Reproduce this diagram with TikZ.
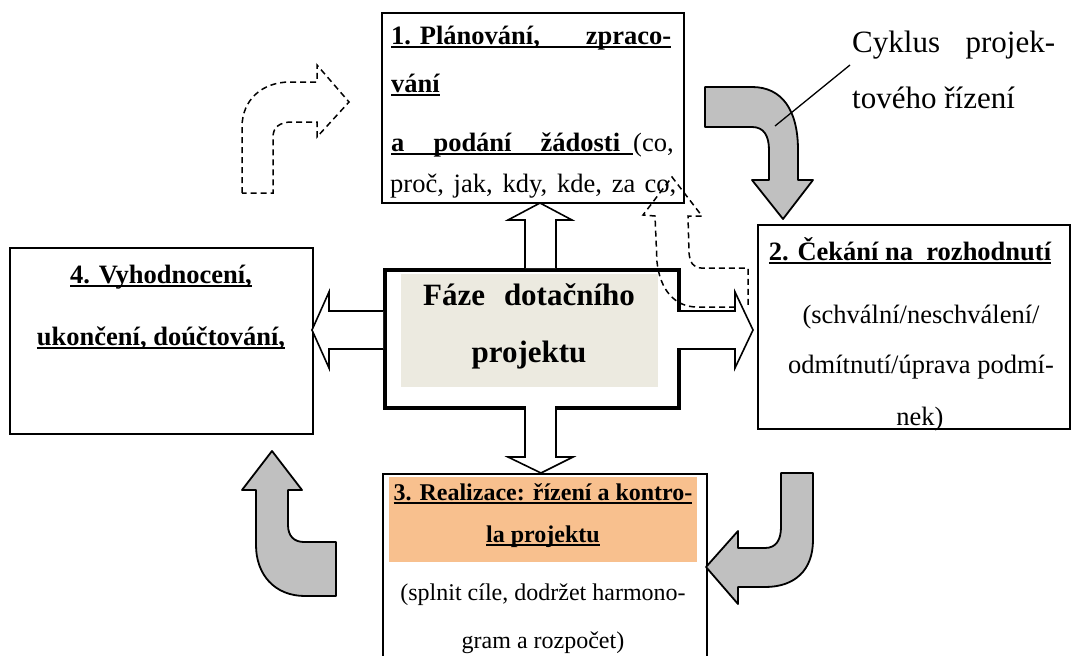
\documentclass[tikz,border=0pt]{standalone}
\usepackage{fontspec}
\setmainfont{Liberation Serif}
\definecolor{arrowgray}{RGB}{192,192,192}
\definecolor{beigebg}{RGB}{236,234,224}
\definecolor{orangebg}{RGB}{248,192,142}
\newsavebox\ulbox
\newcommand\myul[1]{\sbox\ulbox{#1}\rlap{\rule[-4.4pt]{\wd\ulbox}{2.8pt}}\usebox\ulbox}
\newcommand\fb{\fontsize{26.5}{30}\selectfont\bfseries}
\newcommand\fn{\fontsize{26.5}{30}\selectfont}
\newcommand\fbs{\fontsize{24}{28}\selectfont\bfseries}
\newcommand\fns{\fontsize{24}{28}\selectfont}
\newcommand\fc{\fontsize{31}{34}\selectfont\bfseries}
\newcommand\fk{\fontsize{31}{34}\selectfont}
\begin{document}
\begin{tikzpicture}[x=1pt,y=-1pt,
  box/.style={draw, fill=white, line width=1.6pt, inner sep=0pt, anchor=north west},
  bg/.style={inner sep=0pt, anchor=north west},
  tx/.style={inner sep=0pt, anchor=base},
  txl/.style={inner sep=0pt, anchor=base west},
  garrow/.style={draw, line width=1.8pt, fill=arrowgray, line join=round},
  warrow/.style={draw, line width=1.6pt, fill=white, line join=miter},
  darrow/.style={draw, line width=1.5pt, dash pattern=on 6pt off 4pt},
]
\useasboundingbox (0,0) rectangle (1072,656);
\clip (0,0) rectangle (1072,656);

% boxes
\node[box, minimum width=302pt, minimum height=190pt] (b1) at (381,12) {};
\node[box, minimum width=312pt, minimum height=204pt] (b2) at (757,224) {};
\node[box, minimum width=303pt, minimum height=186pt] (b4) at (9,247) {};
\node[box, minimum width=324pt, minimum height=200pt] (b3) at (382,473) {};
\node[box, line width=4pt, minimum width=294pt, minimum height=138pt] (cen) at (383,268) {};
\node[bg, fill=beigebg, minimum width=257pt, minimum height=113pt] (cenbg) at (401,274) {};
\node[bg, fill=orangebg, minimum width=308pt, minimum height=85pt] (b3bg) at (389,477) {};

% gray curved arrows
\draw[garrow] (705,87) -- (752,87) .. controls (782,87) and (798,110) .. (798,150) -- (798,180)
  -- (813,180) -- (783,219) -- (752,180) -- (769,180) -- (769,150)
  .. controls (769,136) and (764,127) .. (752,127) -- (705,127) -- cycle;
\draw[garrow] (781,473) -- (813,473) -- (813,540) .. controls (813,570) and (795,587) .. (765,587)
  -- (738,587) -- (738,604) -- (706,567) -- (738,531) -- (738,548) -- (765,548)
  .. controls (776,548) and (781,540) .. (781,527) -- cycle;
\draw[garrow] (272,451) -- (302,490) -- (288,490) -- (288,525) .. controls (288,536) and (294,542) .. (304,542)
  -- (336,542) -- (336,596) -- (305,596) .. controls (275,596) and (256,575) .. (256,545)
  -- (256,490) -- (242,490) -- cycle;

% dashed arrows
\draw[darrow] (242,193) -- (242,127) .. controls (242,100) and (262,82) .. (290,82) -- (317,82)
  -- (317,65) -- (349,102) -- (317,137) -- (317,122) -- (292,122)
  .. controls (280,122) and (273,127) .. (273,137) -- (273,193) -- cycle;
\draw[darrow] (735,307) -- (697,307) .. controls (675,307) and (660,290) .. (657,262) -- (655,216)
  -- (643,215) -- (672,177) -- (702,216) -- (688,216) -- (689,253)
  .. controls (690,262) and (693,268) .. (701,268) -- (748,268) -- (748,308);

% white block arrows
\draw[warrow] (525,268) -- (525,220) -- (508,220) -- (540,203) -- (572,220) -- (556,220) -- (556,268);
\draw[warrow] (525,406) -- (525,457) -- (508,457) -- (541,473) -- (573,457) -- (556,457) -- (556,406);
\draw[warrow] (383,311) -- (329,311) -- (329,292) -- (312,330) -- (329,368) -- (329,349) -- (383,349);
\draw[warrow] (677,311) -- (735,311) -- (735,292) -- (753,330) -- (735,368) -- (735,349) -- (677,349);

% box 1 text
\node[txl] (t1a) at (391,44) {\fb\myul{\makebox[280pt][l]{1. Plánování,\hfill zpraco-}}};
\node[txl] (t1b) at (391,92) {\fb\myul{vání}};
\node[txl] (t1c) at (391,151) {\fb\myul{\makebox[242pt][l]{a\hfill podání\hfill žádosti\hspace{13pt}}}\mdseries(co,};
\node[txl] (t1d) at (390,192) {\fn\makebox[286pt][s]{proč, jak, kdy, kde, za co,}};

% box 2 text
\node[tx] (t2a) at (910,260) {\fb\myul{2. Čekání na\ \ rozhodnutí}};
\node[tx] (t2b) at (921,323) {\fn (schvální/neschválení/};
\node[tx] (t2c) at (921,373) {\fn odmítnutí/úprava podmí-};
\node[tx] (t2d) at (920,425) {\fn nek)};

% box 4 text
\node[tx] (t4a) at (161,283) {\fb\myul{4. Vyhodnocení,}};
\node[tx] (t4b) at (161,345) {\fb\myul{ukončení, doúčtování,}};

% central text
\node[tx] (c1) at (529,305) {\fc Fáze\hspace{19pt}dotačního};
\node[tx] (c2) at (529,362) {\fc projektu};

% box 3 text
\node[tx] (t3a) at (543,500) {\fbs\myul{3. Realizace: řízení a kontro-}};
\node[tx] (t3b) at (543,542) {\fbs\myul{la projektu}};
\node[tx] (t3c) at (543,600) {\fns (splnit cíle, dodržet harmono-};
\node[tx] (t3d) at (543,648) {\fns gram a rozpočet)};

% cycle label
\node[txl] (cy1) at (852,52) {\fk\makebox[203pt][s]{Cyklus projek-}};
\node[txl] (cy2) at (852,108) {\fk tového řízení};
\coordinate (lp1) at (850,65);
\coordinate (lp2) at (775,126);
\draw[line width=1.3pt] (lp1) -- (lp2);
\end{tikzpicture}
\end{document}
